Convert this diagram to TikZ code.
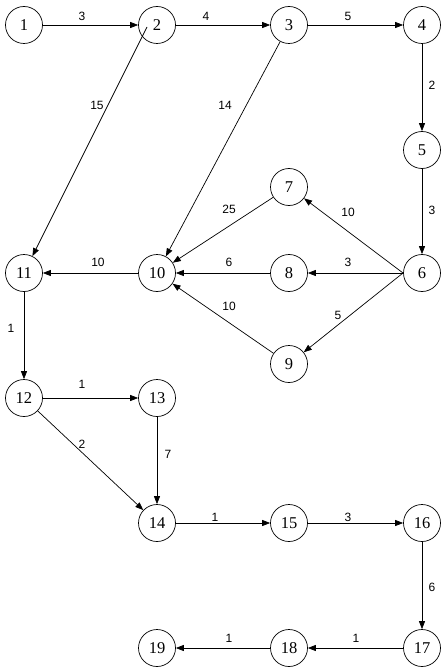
\documentclass[tikz,border=0pt]{standalone}
\usepackage{fontspec}
\setmainfont{Liberation Serif}
\newfontfamily\lblfont{Liberation Sans}
\usetikzlibrary{arrows.meta}
\begin{document}
\begin{tikzpicture}[x=1pt,y=-1pt,
  vtx/.style={circle,draw,line width=0.7pt,inner sep=0pt,minimum size=37pt,font=\fontsize{16.5}{16.5}\selectfont},
  edge/.style={line width=0.7pt,-{Triangle[length=8pt,width=6pt]}},
  wt/.style={font=\lblfont\fontsize{12}{12}\selectfont,inner sep=0pt}]
\useasboundingbox (0,0) rectangle (447,671);
\node[vtx] (n1) at (24,25) {1};
\node[vtx] (n2) at (157,25) {2};
\node[vtx] (n3) at (289,25) {3};
\node[vtx] (n4) at (422,25) {4};
\node[vtx] (n5) at (422,150) {5};
\node[vtx] (n6) at (422,273) {6};
\node[vtx] (n7) at (289,187) {7};
\node[vtx] (n8) at (289,273) {8};
\node[vtx] (n9) at (289,364) {9};
\node[vtx] (n10) at (157,273) {10};
\node[vtx] (n11) at (24,273) {11};
\node[vtx] (n12) at (24,398) {12};
\node[vtx] (n13) at (157,398) {13};
\node[vtx] (n14) at (157,523) {14};
\node[vtx] (n15) at (289,523) {15};
\node[vtx] (n16) at (422,523) {16};
\node[vtx] (n17) at (422,648) {17};
\node[vtx] (n18) at (289,648) {18};
\node[vtx] (n19) at (157,648) {19};
\coordinate (s2) at (147,27);
\coordinate (s6) at (403,273);
\draw[edge] (n1) -- (n2);
\draw[edge] (n2) -- (n3);
\draw[edge] (n3) -- (n4);
\draw[edge] (n4) -- (n5);
\draw[edge] (n5) -- (n6);
\draw[edge] (s2) -- (n11);
\draw[edge] (n3) -- (n10);
\draw[edge] (n7) -- (n10);
\draw[edge] (n8) -- (n10);
\draw[edge] (n9) -- (n10);
\draw[edge] (s6) -- (n7);
\draw[edge] (s6) -- (n8);
\draw[edge] (s6) -- (n9);
\draw[edge] (n10) -- (n11);
\draw[edge] (n11) -- (n12);
\draw[edge] (n12) -- (n13);
\draw[edge] (n12) -- (n14);
\draw[edge] (n13) -- (n14);
\draw[edge] (n14) -- (n15);
\draw[edge] (n15) -- (n16);
\draw[edge] (n16) -- (n17);
\draw[edge] (n17) -- (n18);
\draw[edge] (n18) -- (n19);
\node[wt] (w1) at (82,16) {3};
\node[wt] (w2) at (206,16) {4};
\node[wt] (w3) at (348,16) {5};
\node[wt] (w4) at (432,85) {2};
\node[wt] (w5) at (432,210) {3};
\node[wt] (w6) at (97,105) {15};
\node[wt] (w7) at (225,105) {14};
\node[wt] (w8) at (229,209) {25};
\node[wt] (w9) at (348,212) {10};
\node[wt] (w10) at (348,262) {3};
\node[wt] (w11) at (338,315) {5};
\node[wt] (w12) at (229,262) {6};
\node[wt] (w13) at (229,306) {10};
\node[wt] (w14) at (98,262) {10};
\node[wt] (w15) at (11,328) {1};
\node[wt] (w16) at (82,384) {1};
\node[wt] (w17) at (82,444) {2};
\node[wt] (w18) at (168,454) {7};
\node[wt] (w19) at (215,517) {1};
\node[wt] (w20) at (348,517) {3};
\node[wt] (w21) at (432,587) {6};
\node[wt] (w22) at (356,638) {1};
\node[wt] (w23) at (229,638) {1};
\end{tikzpicture}
\end{document}
